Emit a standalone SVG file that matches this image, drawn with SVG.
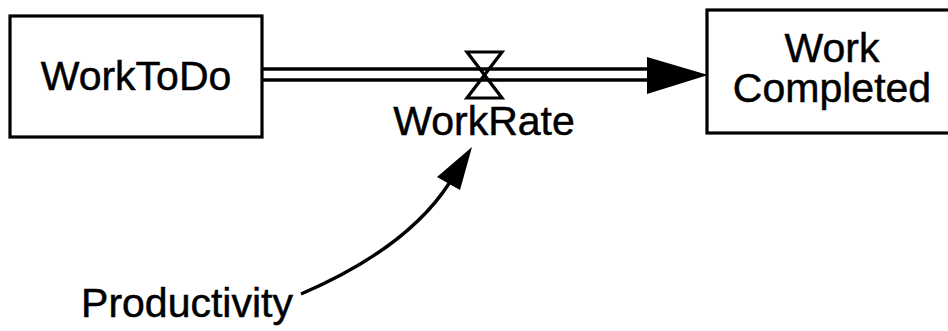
<svg xmlns="http://www.w3.org/2000/svg" width="948" height="331" viewBox="0 0 948 331">
<style>
.box{fill:#fff;stroke:#000;stroke-width:3.2}
.lbl{font-family:"Liberation Sans",Arial,sans-serif;font-size:41px;fill:#000;stroke:#000;stroke-width:0.5;text-anchor:middle}
.pipe{stroke:#000;stroke-width:3.4;fill:none}
.head{fill:#000;stroke:none}
</style>
<rect width="948" height="331" fill="#fff"/>
<g id="connectors">
  <line class="pipe" x1="262" y1="69" x2="650" y2="69"/>
  <line class="pipe" x1="262" y1="80" x2="650" y2="80"/>
  <polygon class="head" points="647,57 708,75 647,94"/>
  <path class="pipe" d="M301,294 Q408,248 450,182"/>
  <polygon class="head" points="472,147 437,177 460,190"/>
</g>
<g id="WorkToDo">
  <rect class="box" x="10" y="16" width="252" height="121"/>
  <text class="lbl" x="136" y="90">WorkToDo</text>
</g>
<g id="WorkRate">
  <path d="M467,52 L502,52 L467,98 L502,98 Z" fill="none" stroke="#000" stroke-width="3.2" stroke-linejoin="miter"/>
  <text class="lbl" x="484" y="135">WorkRate</text>
</g>
<g id="WorkCompleted">
  <rect class="box" x="707" y="10" width="260" height="123"/>
  <text class="lbl" x="832" y="62">Work</text>
  <text class="lbl" x="832" y="102">Completed</text>
</g>
<g id="Productivity">
  <text class="lbl" x="187" y="317">Productivity</text>
</g>
</svg>
